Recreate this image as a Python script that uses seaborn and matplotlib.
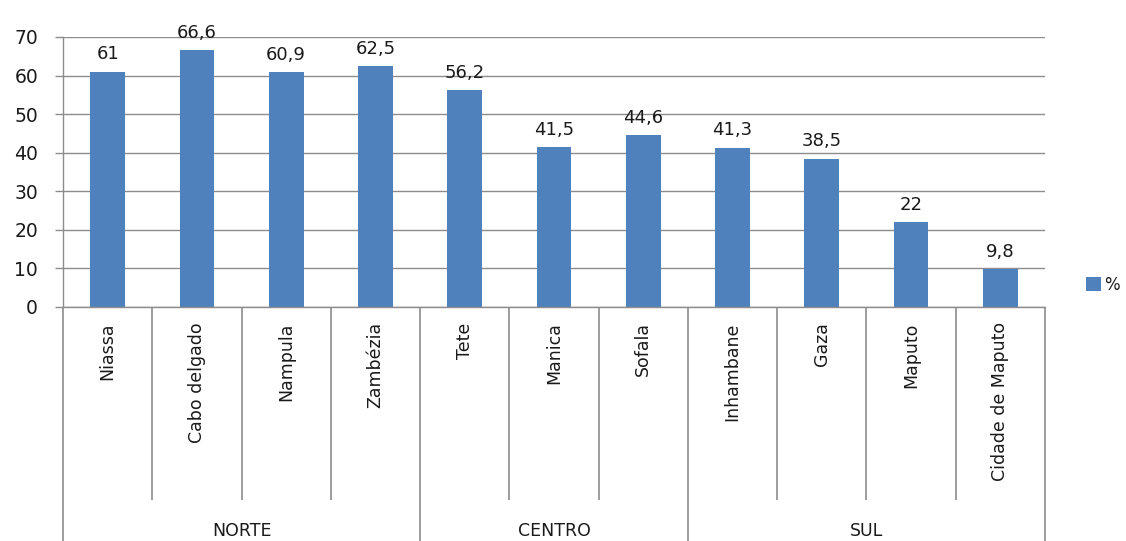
import matplotlib
matplotlib.use("Agg")
import matplotlib.pyplot as plt
import matplotlib.transforms as mtransforms
import seaborn as sns
import pandas as pd

provinces = ["Niassa", "Cabo delgado", "Nampula", "Zambézia", "Tete", "Manica",
             "Sofala", "Inhambane", "Gaza", "Maputo", "Cidade de Maputo"]
values = [61, 66.6, 60.9, 62.5, 56.2, 41.5, 44.6, 41.3, 38.5, 22, 9.8]
regions = ["NORTE", "CENTRO", "SUL"]
region_sizes = [4, 3, 4]
series_name = "%"

sns.set_theme(style="white")
plt.rcParams['font.family'] = ['DejaVu Sans']

BAR = "#4F81BD"
GRID = "#8C8C8C"
TXT = "#1a1a1a"

fig = plt.figure(figsize=(11.26, 5.41), dpi=100)
ax = fig.add_axes([63/1126, 1-307/541, (1045-63)/1126, 270/541])

df = pd.DataFrame({"prov": provinces, "val": values})
sns.barplot(data=df, x="prov", y="val", color=BAR, width=0.39, ax=ax,
            label=series_name, saturation=1, linewidth=0)

ax.set_ylim(0, 70)
ax.set_xlim(-0.5, len(provinces) - 0.5)
ax.set_yticks(range(0, 71, 10))
ax.yaxis.grid(True, color=GRID, linewidth=1)
ax.set_axisbelow(True)
ax.set_xlabel("")
ax.set_ylabel("")

for s in ["top", "right"]:
    ax.spines[s].set_visible(False)
for s in ["left", "bottom"]:
    ax.spines[s].set_color(GRID)
    ax.spines[s].set_linewidth(1)

ax.tick_params(axis="y", length=6, width=1, color=GRID, pad=12,
               labelsize=13.5, labelcolor=TXT, left=True)
ax.tick_params(axis="x", length=0, pad=11, labelsize=12.5, labelcolor=TXT)
ax.set_xticks(range(len(provinces)))
ax.set_xticklabels(provinces, rotation=90, va="top", ha="center")

labels = [f"{v:g}".replace(".", ",") for v in values]
ax.bar_label(ax.containers[0], labels=labels, padding=6, fontsize=13, color=TXT)

# multi-level category separators
trans = mtransforms.blended_transform_factory(ax.transData, ax.transAxes)
inner_bottom = -(500 - 307) / 270
outer_bottom = -(541 - 307) / 270 - 0.01
group_edges = [-0.5]
acc = -0.5
for n in region_sizes:
    acc += n
    group_edges.append(acc)
for i in range(len(provinces) + 1):
    xb = i - 0.5
    if any(abs(xb - g) < 1e-9 for g in group_edges):
        y0 = outer_bottom
    else:
        y0 = inner_bottom
    ax.plot([xb, xb], [0, y0], transform=trans, color=GRID, lw=1.2,
            clip_on=False, solid_capstyle="butt")

for k, name in enumerate(regions):
    xc = (group_edges[k] + group_edges[k + 1]) / 2
    ax.text(xc, -(531 - 307) / 270, name, transform=trans, ha="center",
            va="center", fontsize=12.5, color=TXT)

leg = ax.legend(loc="center left", bbox_to_anchor=(1.026, 0.081), frameon=False,
                handlelength=0.92, handleheight=0.92, handletextpad=0.2,
                fontsize=12, borderaxespad=0.5, borderpad=0.4)
for t in leg.get_texts():
    t.set_color(TXT)

fig.savefig("out.png", dpi=100)
